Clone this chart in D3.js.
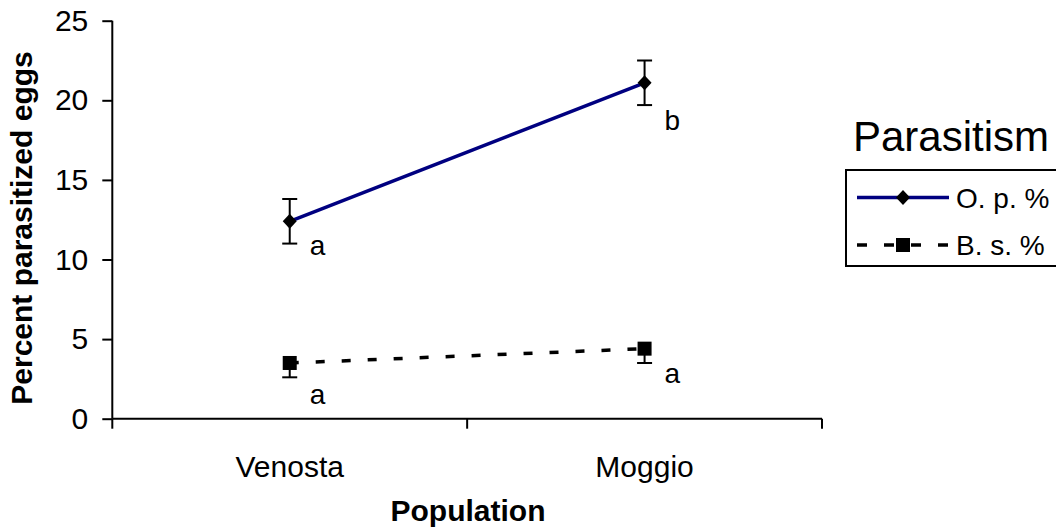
<!DOCTYPE html>
<html>
<head>
<meta charset="utf-8">
<script src="https://cdn.jsdelivr.net/npm/d3@7"></script>
<style>
  html, body { margin: 0; padding: 0; background: #fff; }
  svg { display: block; font-family: Arial, "Liberation Sans", sans-serif; }
</style>
</head>
<body>
<svg id="chart" width="1056" height="532"></svg>
<script>
// Populations on the x axis
const populations = ["Venosta", "Moggio"];
// Mean percent parasitized eggs per parasitoid
const opValues = [12.4, 21.1];
const bsValues = [3.5, 4.4];
// Error bar half-lengths
const opErrors = [1.4, 1.4];
const bsErrors = [0.9, 0.9];
// Significance letters
const opLetters = ["a", "b"];
const bsLetters = ["a", "a"];
// Axis ticks
const yTicks = [0, 5, 10, 15, 20, 25];
// Legend
const legendTitle = "Parasitism";
const seriesNames = ["O. p. %", "B. s. %"];

const svg = d3.select("#chart");

const plot = { left: 112.3, right: 822, top: 20.7, bottom: 418.7 };

const x = d3.scaleBand().domain(populations).range([plot.left, plot.right]);
const y = d3.scaleLinear().domain([0, 25]).range([plot.bottom, plot.top]);
const cx = d => x(d) + x.bandwidth() / 2;

// Y axis
const yAxis = svg.append("g")
  .attr("transform", `translate(${plot.left},0)`)
  .call(d3.axisLeft(y).tickValues(yTicks).tickSize(10).tickPadding(14));
yAxis.select(".domain").attr("stroke", "#000").attr("stroke-width", 2)
  .attr("d", `M0,${plot.top}V${plot.bottom}`);
yAxis.selectAll(".tick line").attr("stroke", "#000").attr("stroke-width", 2);
yAxis.selectAll(".tick text").attr("font-size", 30).attr("fill", "#000")
  .attr("font-family", "Arial, 'Liberation Sans', sans-serif");

// X axis with ticks at the band edges
const xg = svg.append("g").attr("transform", `translate(0,${plot.bottom})`);
xg.append("line").attr("x1", plot.left).attr("x2", plot.right)
  .attr("stroke", "#000").attr("stroke-width", 2);
const edges = [plot.left, ...populations.map(p => x(p) + x.bandwidth())];
xg.selectAll("line.edge").data(edges).enter().append("line")
  .attr("class", "edge")
  .attr("x1", d => d).attr("x2", d => d).attr("y1", 0).attr("y2", 10)
  .attr("stroke", "#000").attr("stroke-width", 2);
xg.selectAll("text.cat").data(populations).enter().append("text")
  .attr("class", "cat")
  .attr("x", d => cx(d)).attr("y", 58)
  .attr("text-anchor", "middle").attr("font-size", 30).text(d => d);

// Axis titles
svg.append("text")
  .attr("x", 468).attr("y", 521)
  .attr("text-anchor", "middle").attr("font-size", 30).attr("font-weight", "bold")
  .text("Population");
svg.append("text")
  .attr("transform", "translate(32,228) rotate(-90)")
  .attr("text-anchor", "middle").attr("font-size", 30).attr("font-weight", "bold")
  .text("Percent parasitized eggs");

// Series
const series = [
  { values: opValues, errors: opErrors, letters: opLetters, color: "#000080",
    dash: null, marker: "diamond", minusOnly: false, letterDy: [34, 47] },
  { values: bsValues, errors: bsErrors, letters: bsLetters, color: "#000",
    dash: "9,17", marker: "square", minusOnly: true, letterDy: [41, 34] }
];

const line = d3.line().x((d, i) => cx(populations[i])).y(d => y(d));

function drawMarker(g, type, px, py) {
  if (type === "diamond") {
    g.append("path")
      .attr("d", `M${px},${py - 7.5}L${px + 7},${py}L${px},${py + 7.5}L${px - 7},${py}Z`)
      .attr("fill", "#000");
  } else {
    g.append("rect").attr("x", px - 7).attr("y", py - 7)
      .attr("width", 14).attr("height", 14).attr("fill", "#000");
  }
}

series.forEach(s => {
  const g = svg.append("g");
  // error bars
  s.values.forEach((v, i) => {
    const px = cx(populations[i]);
    const top = s.minusOnly ? v : v + s.errors[i];
    const bot = v - s.errors[i];
    g.append("line").attr("x1", px).attr("x2", px)
      .attr("y1", y(top)).attr("y2", y(bot))
      .attr("stroke", "#000").attr("stroke-width", 2);
    g.append("line").attr("x1", px - 7.5).attr("x2", px + 7.5)
      .attr("y1", y(bot)).attr("y2", y(bot))
      .attr("stroke", "#000").attr("stroke-width", 2);
    if (!s.minusOnly) {
      g.append("line").attr("x1", px - 7.5).attr("x2", px + 7.5)
        .attr("y1", y(top)).attr("y2", y(top))
        .attr("stroke", "#000").attr("stroke-width", 2);
    }
  });
  g.append("path").datum(s.values).attr("d", line)
    .attr("fill", "none").attr("stroke", s.color).attr("stroke-width", 3.5)
    .attr("stroke-dasharray", s.dash);
  s.values.forEach((v, i) => drawMarker(g, s.marker, cx(populations[i]), y(v)));
  s.letters.forEach((t, i) => {
    g.append("text")
      .attr("x", cx(populations[i]) + 20).attr("y", y(s.values[i]) + s.letterDy[i])
      .attr("font-size", 28).text(t);
  });
});

// Legend
const lg = svg.append("g");
lg.append("text").attr("x", 853).attr("y", 151).attr("font-size", 42).text(legendTitle);
lg.append("rect").attr("x", 846).attr("y", 170).attr("width", 240).attr("height", 96)
  .attr("fill", "#fff").attr("stroke", "#000").attr("stroke-width", 2);
const rowY = [197.5, 245];
series.forEach((s, i) => {
  lg.append("line").attr("x1", 857).attr("x2", 949).attr("y1", rowY[i]).attr("y2", rowY[i])
    .attr("stroke", s.color).attr("stroke-width", 3.5)
    .attr("stroke-dasharray", s.dash ? "10,17" : null);
  drawMarker(lg, s.marker, 903, rowY[i]);
  lg.append("text").attr("x", 956).attr("y", rowY[i] + 10).attr("font-size", 28)
    .text(seriesNames[i]);
});
</script>
</body>
</html>
